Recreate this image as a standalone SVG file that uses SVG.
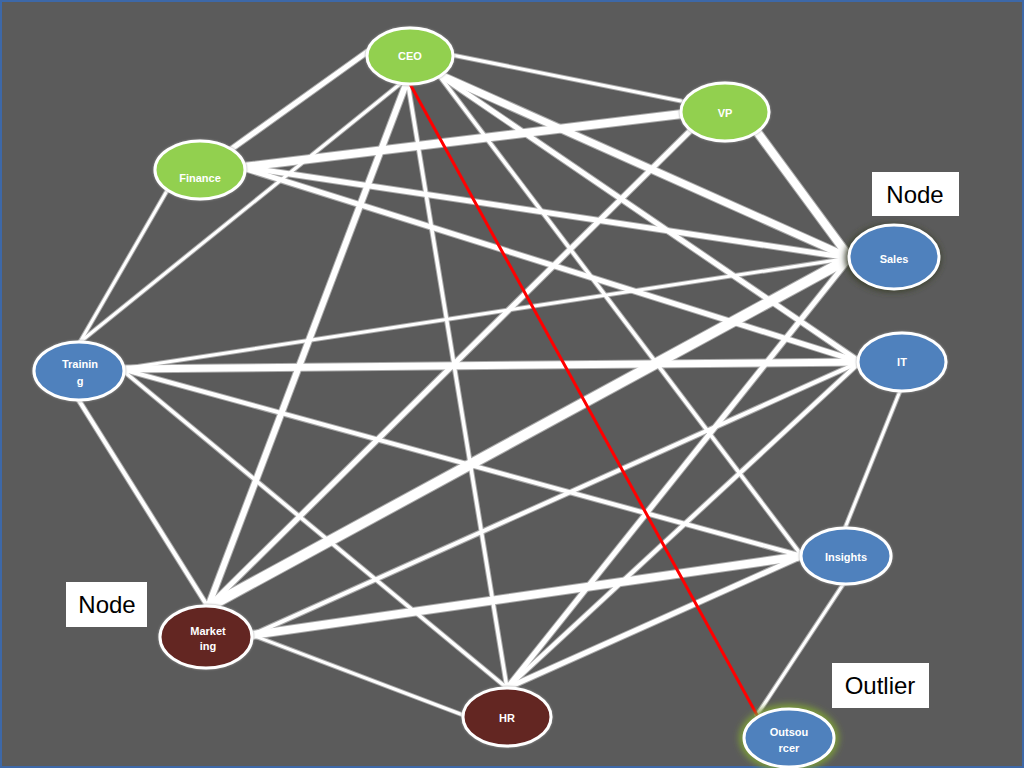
<svg xmlns="http://www.w3.org/2000/svg" width="1024" height="768" viewBox="0 0 1024 768">
<defs>
<style>
.bg{fill:#5b5b5b;stroke:#3d68a8;stroke-width:2}
.o line{stroke:#a8a8a8;stroke-linecap:round}
.w line{stroke:#ffffff;stroke-linecap:round}
.red{stroke:#ff0000;stroke-width:3;stroke-linecap:round}
.nd{stroke:#ffffff;stroke-width:3}
.g{fill:#92d050}
.b{fill:#4f81bd}
.r{fill:#632523}
.lbl{font-family:"Liberation Sans",Arial,sans-serif;font-size:11px;font-weight:bold;fill:#ffffff;text-anchor:middle}
.box{fill:#ffffff}
.bt{font-family:"Liberation Sans",Arial,sans-serif;font-size:24px;fill:#000000;text-anchor:middle}
</style>
<filter id="sh" x="-20%" y="-20%" width="140%" height="140%">
<feDropShadow dx="0" dy="0" stdDeviation="1" flood-color="#9a9a9a" flood-opacity="1"/>
</filter>
<filter id="glow" x="-30%" y="-30%" width="160%" height="160%">
<feGaussianBlur stdDeviation="3"/>
</filter>
</defs>
<rect class="bg" x="1" y="1" width="1022" height="766"/>
<g id="connectors">
<g class="o">
<line x1="367" y1="52" x2="230" y2="150" stroke-width="7"/>
<line x1="452" y1="55" x2="681" y2="101" stroke-width="5"/>
<line x1="400" y1="84" x2="80" y2="342" stroke-width="5"/>
<line x1="406" y1="84" x2="208" y2="607" stroke-width="8"/>
<line x1="408" y1="84" x2="507" y2="688" stroke-width="5.5"/>
<line x1="438" y1="74" x2="802" y2="556" stroke-width="5.5"/>
<line x1="438" y1="74" x2="860" y2="362" stroke-width="7"/>
<line x1="438" y1="74" x2="850" y2="258" stroke-width="9"/>
<line x1="682" y1="114" x2="243" y2="167" stroke-width="10"/>
<line x1="755" y1="129" x2="850" y2="258" stroke-width="10"/>
<line x1="693" y1="128" x2="208" y2="607" stroke-width="7"/>
<line x1="168" y1="189" x2="80" y2="342" stroke-width="5"/>
<line x1="243" y1="167" x2="850" y2="258" stroke-width="7"/>
<line x1="243" y1="168" x2="860" y2="362" stroke-width="7"/>
<line x1="121" y1="369" x2="850" y2="258" stroke-width="5"/>
<line x1="121" y1="369" x2="860" y2="362" stroke-width="9"/>
<line x1="121" y1="369" x2="802" y2="556" stroke-width="6"/>
<line x1="121" y1="369" x2="507" y2="688" stroke-width="5.5"/>
<line x1="78" y1="399" x2="208" y2="607" stroke-width="6"/>
<line x1="208" y1="607" x2="850" y2="258" stroke-width="12"/>
<line x1="252" y1="635" x2="860" y2="362" stroke-width="6"/>
<line x1="252" y1="635" x2="802" y2="556" stroke-width="10"/>
<line x1="252" y1="635" x2="463" y2="715" stroke-width="5"/>
<line x1="507" y1="688" x2="850" y2="258" stroke-width="7"/>
<line x1="507" y1="688" x2="860" y2="362" stroke-width="6"/>
<line x1="507" y1="688" x2="802" y2="556" stroke-width="7"/>
<line x1="900" y1="391" x2="845" y2="528" stroke-width="5"/>
<line x1="844" y1="583" x2="757" y2="715" stroke-width="5"/>
</g>
<g class="w">
<line x1="367" y1="52" x2="230" y2="150" stroke-width="5"/>
<line x1="452" y1="55" x2="681" y2="101" stroke-width="3"/>
<line x1="400" y1="84" x2="80" y2="342" stroke-width="3"/>
<line x1="406" y1="84" x2="208" y2="607" stroke-width="6"/>
<line x1="408" y1="84" x2="507" y2="688" stroke-width="3.5"/>
<line x1="438" y1="74" x2="802" y2="556" stroke-width="3.5"/>
<line x1="438" y1="74" x2="860" y2="362" stroke-width="5"/>
<line x1="438" y1="74" x2="850" y2="258" stroke-width="7"/>
<line x1="682" y1="114" x2="243" y2="167" stroke-width="8"/>
<line x1="755" y1="129" x2="850" y2="258" stroke-width="8"/>
<line x1="693" y1="128" x2="208" y2="607" stroke-width="5"/>
<line x1="168" y1="189" x2="80" y2="342" stroke-width="3"/>
<line x1="243" y1="167" x2="850" y2="258" stroke-width="5"/>
<line x1="243" y1="168" x2="860" y2="362" stroke-width="5"/>
<line x1="121" y1="369" x2="850" y2="258" stroke-width="3"/>
<line x1="121" y1="369" x2="860" y2="362" stroke-width="7"/>
<line x1="121" y1="369" x2="802" y2="556" stroke-width="4"/>
<line x1="121" y1="369" x2="507" y2="688" stroke-width="3.5"/>
<line x1="78" y1="399" x2="208" y2="607" stroke-width="4"/>
<line x1="208" y1="607" x2="850" y2="258" stroke-width="10"/>
<line x1="252" y1="635" x2="860" y2="362" stroke-width="4"/>
<line x1="252" y1="635" x2="802" y2="556" stroke-width="8"/>
<line x1="252" y1="635" x2="463" y2="715" stroke-width="3"/>
<line x1="507" y1="688" x2="850" y2="258" stroke-width="5"/>
<line x1="507" y1="688" x2="860" y2="362" stroke-width="4"/>
<line x1="507" y1="688" x2="802" y2="556" stroke-width="5"/>
<line x1="900" y1="391" x2="845" y2="528" stroke-width="3"/>
<line x1="844" y1="583" x2="757" y2="715" stroke-width="3"/>
</g>
<line class="red" x1="410" y1="84" x2="757" y2="715"/>
</g>
<g id="node-ceo"><ellipse class="nd g" cx="410" cy="56" rx="43" ry="28" filter="url(#sh)"/><text class="lbl" x="410" y="60">CEO</text></g>
<g id="node-vp"><ellipse class="nd g" cx="725" cy="112" rx="44" ry="29" filter="url(#sh)"/><text class="lbl" x="725" y="117">VP</text></g>
<g id="node-finance"><ellipse class="nd g" cx="200" cy="170" rx="45" ry="29" filter="url(#sh)"/><text class="lbl" x="200" y="182">Finance</text></g>
<g id="node-sales"><ellipse cx="893" cy="258" rx="48" ry="34" fill="#3a3f2a" filter="url(#glow)"/><ellipse class="nd b" cx="894" cy="257" rx="45" ry="32"/><text class="lbl" x="894" y="263">Sales</text></g>
<g id="node-it"><ellipse class="nd b" cx="902" cy="362" rx="44" ry="29" filter="url(#sh)"/><text class="lbl" x="902" y="366">IT</text></g>
<g id="node-training"><ellipse class="nd b" cx="79" cy="371" rx="45" ry="29" filter="url(#sh)"/><text class="lbl" x="80" y="368">Trainin</text><text class="lbl" x="80" y="385">g</text></g>
<g id="node-insights"><ellipse class="nd b" cx="846" cy="556" rx="45" ry="28" filter="url(#sh)"/><text class="lbl" x="846" y="561">Insights</text></g>
<g id="node-marketing"><ellipse class="nd r" cx="206" cy="637" rx="46" ry="31" filter="url(#sh)"/><text class="lbl" x="208" y="635">Market</text><text class="lbl" x="208" y="650">ing</text></g>
<g id="node-hr"><ellipse class="nd r" cx="507" cy="717" rx="44" ry="29" filter="url(#sh)"/><text class="lbl" x="507" y="722">HR</text></g>
<g id="node-outsourcer"><ellipse cx="789" cy="738" rx="50" ry="34" fill="#7a9a3a" filter="url(#glow)"/><ellipse class="nd b" cx="789" cy="738" rx="45" ry="29"/><text class="lbl" x="789" y="736">Outsou</text><text class="lbl" x="789" y="752">rcer</text></g>
<g id="label-node-right"><rect class="box" x="872" y="172" width="87" height="44"/><text class="bt" x="915" y="203">Node</text></g>
<g id="label-node-left"><rect class="box" x="66" y="582" width="81" height="45"/><text class="bt" x="107" y="613">Node</text></g>
<g id="label-outlier"><rect class="box" x="832" y="663" width="97" height="45"/><text class="bt" x="880" y="694">Outlier</text></g>
</svg>
